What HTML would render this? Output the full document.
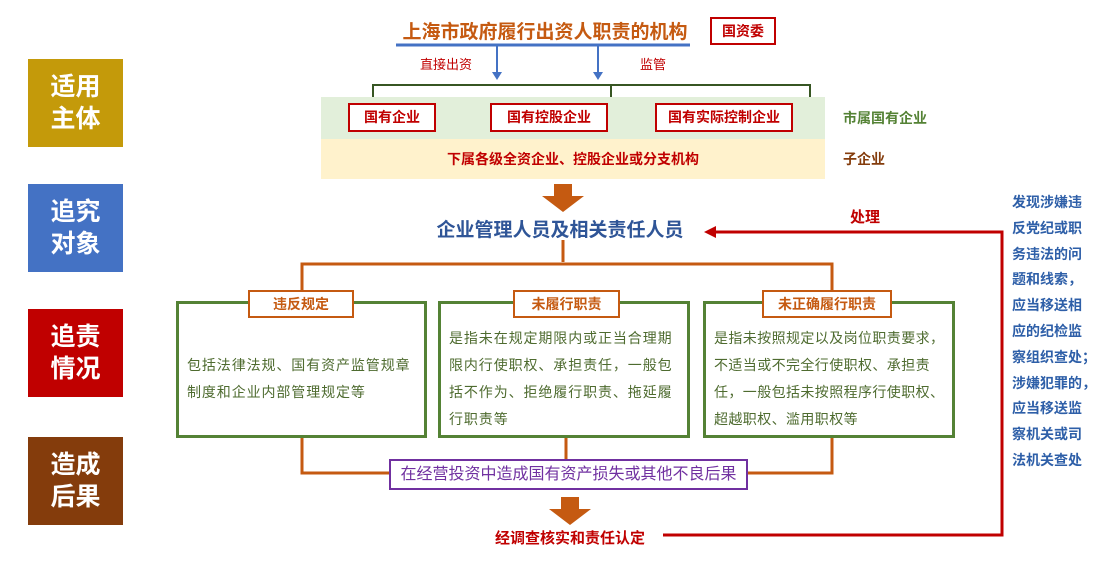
<!DOCTYPE html>
<html><head><meta charset="utf-8"><style>
body{margin:0;width:1110px;height:574px;position:relative;background:#fff;font-family:"Liberation Sans","Noto Sans CJK SC",sans-serif;overflow:hidden}
.a{position:absolute}
.side{position:absolute;left:28px;width:95px;height:88px;color:#fff;font-size:25px;font-weight:bold;line-height:32px;text-align:center;display:flex;align-items:center;justify-content:center}
.rb{position:absolute;border:2px solid #c00000;background:#fff;color:#c00000;font-size:14px;font-weight:bold;text-align:center;box-sizing:border-box;line-height:25px}
.gb{position:absolute;border:3px solid #548235;background:#fff;box-sizing:border-box;color:#4e6b2f;font-size:14px;letter-spacing:0.9px;line-height:27px;padding:0 8px;white-space:nowrap}
.tb{position:absolute;border:2px solid #c55a11;background:#fff;color:#c55a11;font-size:14px;font-weight:bold;text-align:center;box-sizing:border-box;height:28px;line-height:24px}
</style></head><body>
<div class="side" style="top:59px;background:#c49a0a">适用<br>主体</div>
<div class="side" style="top:184px;background:#4472c4">追究<br>对象</div>
<div class="side" style="top:309px;background:#c00000">追责<br>情况</div>
<div class="side" style="top:437px;background:#843c0c">造成<br>后果</div>

<svg class="a" style="left:0;top:0" width="1110" height="574">
<line x1="396" y1="45" x2="690" y2="45" stroke="#4472c4" stroke-width="3"/>
<line x1="497" y1="45" x2="497" y2="74" stroke="#4472c4" stroke-width="2"/>
<polygon points="492,72 502,72 497,80" fill="#4472c4"/>
<line x1="598" y1="45" x2="598" y2="74" stroke="#4472c4" stroke-width="2"/>
<polygon points="593,72 603,72 598,80" fill="#4472c4"/>
<path d="M373,97 V85 H810 V97 M611,85 V97" stroke="#375623" stroke-width="2" fill="none"/>
<rect x="321" y="97" width="504" height="42" fill="#e2efda"/>
<rect x="321" y="139" width="504" height="40" fill="#fff2cc"/>
<polygon points="554,184 572,184 572,196 584,196 563,212 542,196 554,196" fill="#c55a11"/>
<path d="M563,240 V262 M302,302 V264 H832 V302" stroke="#c55a11" stroke-width="3" fill="none"/>
<path d="M302,437 V473 H390 M832,437 V473 H748 M566,437 V460" stroke="#c55a11" stroke-width="3" fill="none"/>
<polygon points="561,497 579,497 579,509 591,509 570,525 549,509 561,509" fill="#c55a11"/>
<path d="M663,535 H1002 V232 H712" stroke="#c00000" stroke-width="3" fill="none"/>
<polygon points="704,232 716,226 716,238" fill="#c00000"/>
</svg>

<div class="a" style="left:380px;top:17px;width:330px;text-align:center;color:#c55a11;font-size:19px;font-weight:bold">上海市政府履行出资人职责的机构</div>
<div class="rb" style="left:710px;top:17px;width:66px;height:28px">国资委</div>
<div class="a" style="left:420px;top:54px;color:#c00000;font-size:13px">直接出资</div>
<div class="a" style="left:640px;top:54px;color:#c00000;font-size:13px">监管</div>
<div class="rb" style="left:348px;top:103px;width:88px;height:29px">国有企业</div>
<div class="rb" style="left:490px;top:103px;width:118px;height:29px">国有控股企业</div>
<div class="rb" style="left:655px;top:103px;width:138px;height:29px">国有实际控制企业</div>
<div class="a" style="left:843px;top:108px;color:#548235;font-size:14px;font-weight:bold">市属国有企业</div>
<div class="a" style="left:321px;top:149px;width:504px;text-align:center;color:#c00000;font-size:14px;font-weight:bold">下属各级全资企业、控股企业或分支机构</div>
<div class="a" style="left:843px;top:149px;color:#843c0c;font-size:14px;font-weight:bold">子企业</div>
<div class="a" style="left:400px;top:215px;width:320px;text-align:center;color:#2f5597;font-size:19px;font-weight:bold">企业管理人员及相关责任人员</div>
<div class="a" style="left:850px;top:206px;color:#c00000;font-size:15px;font-weight:bold">处理</div>

<div class="gb" style="left:176px;top:301px;width:251px;height:137px;padding-top:48px">包括法律法规、国有资产监管规章<br>制度和企业内部管理规定等</div>
<div class="gb" style="left:438px;top:301px;width:252px;height:137px;padding-top:21px">是指未在规定期限内或正当合理期<br>限内行使职权、承担责任，一般包<br>括不作为、拒绝履行职责、拖延履<br>行职责等</div>
<div class="gb" style="left:703px;top:301px;width:252px;height:137px;padding-top:21px;letter-spacing:0.4px">是指未按照规定以及岗位职责要求，<br>不适当或不完全行使职权、承担责<br>任，一般包括未按照程序行使职权、<br>超越职权、滥用职权等</div>
<div class="tb" style="left:248px;top:290px;width:106px">违反规定</div>
<div class="tb" style="left:513px;top:290px;width:107px">未履行职责</div>
<div class="tb" style="left:762px;top:290px;width:130px">未正确履行职责</div>
<div class="a" style="left:389px;top:459px;width:359px;height:31px;box-sizing:border-box;border:2px solid #7030a0;color:#7030a0;font-size:16px;text-align:center;line-height:27px;white-space:nowrap">在经营投资中造成国有资产损失或其他不良后果</div>
<div class="a" style="left:470px;top:527px;width:200px;text-align:center;color:#c00000;font-size:15px;font-weight:bold">经调查核实和责任认定</div>
<div class="a" style="left:1012px;top:190px;width:95px;color:#2e5fa8;font-size:14px;font-weight:bold;line-height:25.8px;white-space:nowrap">发现涉嫌违<br>反党纪或职<br>务违法的问<br>题和线索，<br>应当移送相<br>应的纪检监<br>察组织查处；<br>涉嫌犯罪的，<br>应当移送监<br>察机关或司<br>法机关查处</div>
</body></html>
